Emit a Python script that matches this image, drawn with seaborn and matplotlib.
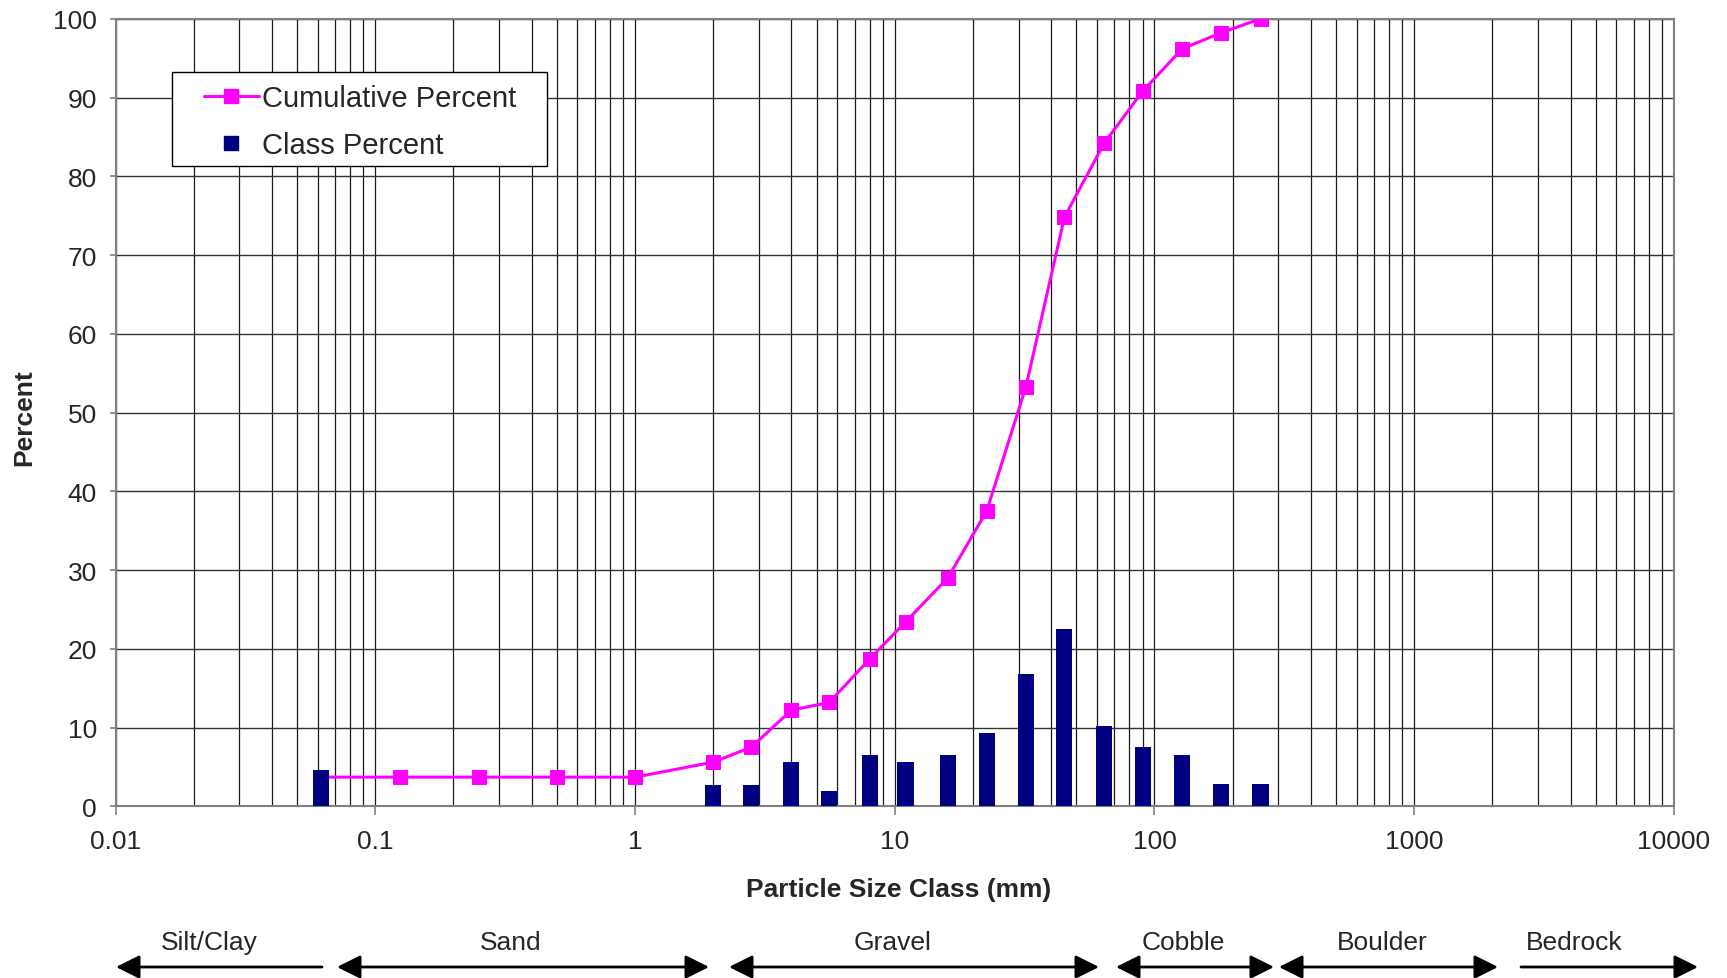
import numpy as np
import matplotlib
matplotlib.use("Agg")
import matplotlib.pyplot as plt
from matplotlib.lines import Line2D
from matplotlib.patches import Rectangle
from matplotlib.ticker import FixedLocator, LogLocator, NullFormatter
import seaborn as sns
import pandas as pd

# ---------------- data ----------------
sizes = [0.062, 0.125, 0.25, 0.5, 1, 2, 2.8, 4, 5.6, 8, 11, 16, 22.6, 32, 45, 64, 90, 128, 180, 256]
cumulative_pct = [3.7, 3.7, 3.7, 3.7, 3.7, 5.6, 7.5, 12.2, 13.2, 18.7, 23.4, 29.0, 37.5, 53.3, 74.8, 84.2, 90.8, 96.2, 98.2, 100]
class_pct = [4.6, 0, 0, 0, 0, 2.7, 2.7, 5.6, 1.9, 6.5, 5.6, 6.5, 9.3, 16.8, 22.5, 10.2, 7.5, 6.5, 2.8, 2.8]
x_ticks = [0.01, 0.1, 1, 10, 100, 1000, 10000]
x_tick_labels = ["0.01", "0.1", "1", "10", "100", "1000", "10000"]
y_ticks = [0, 10, 20, 30, 40, 50, 60, 70, 80, 90, 100]
categories = ["Silt/Clay", "Sand", "Gravel", "Cobble", "Boulder", "Bedrock"]

MAGENTA = "#FF00FF"
NAVY = "#000080"

sns.set_style("white")
plt.rcParams["font.family"] = ["Liberation Sans", "DejaVu Sans"]

df = pd.DataFrame({"size": sizes, "cum": cumulative_pct, "cls": class_pct})

W, H = 1727, 979
fig = plt.figure(figsize=(W / 100, H / 100), dpi=100)
ax = fig.add_axes([0.0669, 0.1754, 0.9024, 0.8044])
ax.set_xscale("log")

# grid
ax.set_xlim(0.01, 10000)
ax.set_ylim(0, 100)
ax.xaxis.set_major_locator(FixedLocator(x_ticks))
ax.set_xticklabels(x_tick_labels)
ax.xaxis.set_minor_locator(LogLocator(base=10, subs=np.arange(2, 10)))
ax.xaxis.set_minor_formatter(NullFormatter())
ax.set_yticks(y_ticks)
ax.grid(True, which="both", axis="x", color="#1a1a1a", linewidth=0.9)
ax.grid(True, which="major", axis="y", color="#333333", linewidth=1.0)
ax.set_axisbelow(True)

# cumulative line
sns.lineplot(data=df, x="size", y="cum", ax=ax, color=MAGENTA, linewidth=2.2,
             marker="s", markersize=10.5, markeredgecolor=MAGENTA, zorder=3)

# class bars (fixed width in log space)
f = 10 ** 0.031
sz = np.array(sizes)
ax.bar(sz / f, class_pct, width=sz * f - sz / f, align="edge", color=NAVY,
       linewidth=0, zorder=4)

ax.set_xlabel("")
ax.set_ylabel("")
for s in ax.spines.values():
    s.set_visible(True)
    s.set_color("#808080")
    s.set_linewidth(1.5)
ax.tick_params(axis="x", which="major", length=6.5, width=1.2, color="#808080",
               direction="out", pad=9.5, labelsize=19, bottom=True)
ax.tick_params(axis="x", which="minor", length=0)
ax.tick_params(axis="y", length=4.5, width=1.2, color="#808080", direction="out",
               pad=9, labelsize=19, left=True)

# legend (frame drawn separately for Excel-like padding)
ax.add_patch(Rectangle((0.036, 0.8126), 0.241, 0.1204, transform=ax.transAxes,
                       facecolor="white", edgecolor="black", linewidth=1.0, zorder=5))
handles = [Line2D([0], [0], color=MAGENTA, lw=2.2, marker="s", markersize=10.5),
           Line2D([0], [0], color=NAVY, lw=0, marker="s", markersize=10.5)]
leg = ax.legend(handles, ["Cumulative Percent", "Class Percent"], loc="upper left",
                bbox_to_anchor=(0.0566, 0.9174), borderaxespad=0, frameon=False,
                fontsize=21, handlelength=1.9, handletextpad=0.1, borderpad=0,
                labelspacing=0.67)
leg.set_zorder(6)

# axis titles
fig.text(24 / W, 1 - 418 / H, "Percent", rotation=90, ha="center", va="center",
         fontsize=19, fontweight="bold")
fig.text(899 / W, 1 - 890 / H, "Particle Size Class (mm)", ha="center", va="center",
         fontsize=19, fontweight="bold")

# category labels and arrows (figure pixel layout)
text_x = [209, 511, 893, 1183, 1382, 1574]
arrow_spans = [(116, 322, "<|-"), (337, 709, "<|-|>"), (729, 1099, "<|-|>"),
               (1116, 1274, "<|-|>"), (1279, 1498, "<|-|>"), (1521, 1698, "-|>")]
for name, tx in zip(categories, text_x):
    fig.text(tx / W, 1 - 943 / H, name, ha="center", va="center", fontsize=19)
ya = H - 968
for x0, x1, style in arrow_spans:
    ax.annotate("", xy=(x1, ya), xytext=(x0, ya), xycoords="figure pixels",
                textcoords="figure pixels", annotation_clip=False,
                arrowprops=dict(arrowstyle=style + ",head_length=0.9,head_width=0.45",
                                color="black", lw=2.0, mutation_scale=16,
                                shrinkA=0, shrinkB=0))

fig.savefig("out.png", dpi=100, facecolor="white")
